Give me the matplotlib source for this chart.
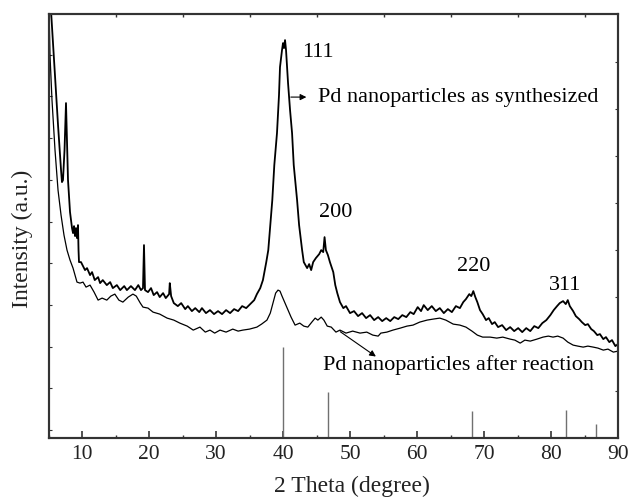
import matplotlib
matplotlib.use("Agg")
import matplotlib.pyplot as plt
import numpy as np

plt.rcParams['font.family'] = ['Liberation Serif', 'DejaVu Serif']

# 2 theta / intensity (a.u.)
synth_x = [5.35, 5.82, 6.42, 6.87, 7.01, 7.16, 7.39, 7.61, 7.76, 7.91, 8.21, 8.51, 8.66, 8.81,
           8.96, 9.10, 9.25, 9.40, 9.48, 9.55, 9.85, 10.15, 10.45, 10.75, 11.2, 11.5, 11.9,
           12.4, 12.7, 13.1, 13.7, 14.2, 14.6, 15.2, 15.7, 16.3, 16.7, 17.3, 17.9, 18.4,
           18.8, 19.1, 19.25, 19.4, 19.85, 20.3, 20.7, 21.2, 21.6, 22.1, 22.5, 23.0, 23.1,
           23.3, 23.7, 24.3, 24.8, 25.4, 25.8, 26.4, 26.9, 27.5, 27.9, 28.5, 29.1, 29.7,
           30.3, 30.9, 31.5, 32.1, 32.7, 33.3, 33.9, 34.5, 35.1, 35.7, 36.1, 36.6, 37.0,
           37.5, 37.8, 38.1, 38.4, 38.7, 39.1, 39.4, 39.55, 39.85, 40.0, 40.15, 40.3, 40.45,
           40.75, 41.05, 41.35, 41.6, 42.1, 42.4, 42.85, 43.1, 43.6, 43.9, 44.2, 44.5, 44.9,
           45.4, 45.7, 46.0, 46.2, 46.4, 46.7, 47.0, 47.5, 47.8, 48.1, 48.5, 49.0, 49.4,
           50.0, 50.6, 51.2, 51.8, 52.4, 53.0, 53.6, 54.2, 54.8, 55.4, 56.0, 56.6, 57.2,
           57.8, 58.4, 59.0, 59.5, 60.1, 60.6, 61.0, 61.6, 62.2, 62.8, 63.4, 64.0, 64.6,
           65.2, 65.8, 66.4, 66.9, 67.3, 67.8, 68.1, 68.4, 68.7, 69.0, 69.4, 69.8, 70.3,
           70.7, 71.2, 71.6, 72.1, 72.7, 73.3, 73.9, 74.5, 75.1, 75.7, 76.3, 76.9, 77.5,
           78.1, 78.7, 79.3, 79.9, 80.4, 80.9, 81.3, 81.8, 82.2, 82.5, 82.8, 83.3, 83.7,
           84.2, 84.6, 85.1, 85.5, 86.0, 86.4, 86.9, 87.3, 87.8, 88.2, 88.7, 89.1, 89.6, 90.0]
synth_y = [430, 378, 313, 268, 256, 258, 288, 335, 298, 258, 226, 210, 205, 212,
           202, 210, 200, 213, 188, 176, 176, 172, 168, 170, 163, 166, 158,
           161, 155, 158, 153, 156, 150, 153, 148, 152, 148, 152, 148, 153,
           148, 150, 193, 148, 146, 150, 143, 146, 141, 145, 140, 144, 155,
           142, 135, 132, 135, 129, 132, 127, 130, 126, 130, 125, 128, 124,
           127, 124, 128, 125, 129, 127, 132, 130, 134, 138, 144, 150, 158,
           176, 188, 213, 238, 273, 305, 343, 371, 388, 395, 390, 398, 388,
           355, 328, 305, 273, 238, 213, 188, 176, 170, 174, 168, 176, 180,
           184, 188, 186, 201, 188, 183, 176, 166, 153, 145, 136, 130, 132,
           125, 127, 122, 125, 120, 123, 118, 121, 117, 120, 117, 121, 119,
           123, 121, 126, 124, 131, 127, 133, 128, 132, 127, 130, 125, 129,
           126, 132, 130, 136, 139, 144, 142, 147, 141, 136, 128, 124, 118,
           120, 114, 116, 111, 113, 108, 111, 107, 110, 106, 110, 107, 112,
           110, 115, 118, 123, 128, 132, 135, 137, 134, 138, 132, 127, 122,
           119, 116, 113, 114, 109, 107, 103, 104, 99, 101, 96, 98, 92, 94]

after_x = [5.07, 5.22, 5.52, 5.97, 6.42, 6.87, 7.31, 7.76, 8.21, 8.66, 9.25, 9.70, 10.15,
           10.6, 11.2, 11.8, 12.4, 13.0, 13.7, 14.3, 14.9, 15.5, 16.1, 16.9, 17.6, 18.1,
           18.7, 19.1, 19.85, 20.6, 21.6, 22.7, 23.7, 24.6, 25.7, 26.6, 27.6, 28.4, 29.1,
           29.8, 30.6, 31.5, 32.5, 33.3, 34.0, 35.0, 36.1, 36.8, 37.6, 38.1, 38.5, 38.9,
           39.25, 39.55, 39.85, 40.3, 40.75, 41.2, 41.8, 42.5, 43.1, 43.7, 44.3, 44.8,
           45.2, 45.7, 46.1, 46.6, 47.2, 47.9, 48.5, 49.4, 50.4, 51.5, 52.5, 53.4, 54.2,
           54.6, 55.5, 56.4, 57.5, 58.5, 59.4, 60.4, 61.5, 62.4, 63.4, 64.3, 65.4, 66.4,
           67.3, 68.2, 69.0, 69.8, 70.9, 71.9, 72.8, 73.9, 74.6, 75.4, 76.1, 76.9, 77.9,
           78.8, 79.6, 80.3, 81.0, 81.8, 82.5, 83.3, 84.0, 84.8, 85.5, 86.3, 87.0, 87.8,
           88.5, 89.3, 90.0]
after_y = [430, 383, 338, 288, 248, 223, 203, 188, 178, 170, 156, 155, 156,
           151, 153, 146, 138, 140, 138, 142, 144, 138, 136, 141, 144, 142,
           135, 131, 130, 126, 124, 120, 118, 115, 112, 108, 111, 106, 108,
           105, 108, 106, 109, 107, 108, 109, 111, 114, 118, 125, 135, 145,
           148, 147, 142, 135, 128, 121, 113, 115, 112, 111, 116, 120,
           118, 121, 118, 112, 111, 106, 108, 105, 107, 105, 106, 103, 102,
           105, 106, 108, 110, 112, 113, 116, 118, 119, 120, 118, 114, 113,
           111, 107, 103, 101, 101, 100, 101, 99, 98, 95, 98, 97, 99,
           101, 102, 101, 102, 100, 96, 93, 92, 91, 92, 91, 90, 88,
           89, 86, 87]

# reference pattern lines
ref_x = [40.05, 46.65, 68.2, 82.2, 86.7]
ref_h = [91, 46, 27, 28, 14]

hkl = ['111', '200', '220', '311']
hkl_x = [45.2, 47.8, 68.4, 82.1]
hkl_y = [386, 226, 172, 153]

fig = plt.figure(figsize=(6.3, 5.03), dpi=100)
ax = fig.add_axes([0.077, 0.129, 0.904, 0.843])

ax.plot(synth_x, synth_y, color='black', lw=1.3)
ax.plot(after_x, after_y, color='black', lw=0.9)
ax.vlines(ref_x, 0, ref_h, color='#707070', lw=1.0)

ax.set_xlim(5, 90)
ax.set_ylim(0, 424)

for lab, x, y in zip(hkl, hkl_x, hkl_y):
    ax.text(x, y, lab, fontsize=16, ha='center', va='center')

ax.text(45.25, 341, 'Pd nanoparticles as synthesized', fontsize=16, va='center', ha='left')
ax.annotate('', xy=(43.9, 341), xytext=(40.75, 341),
            arrowprops=dict(arrowstyle='-|>', color='black', lw=0.8, mutation_scale=9))
ax.text(46.0, 73, 'Pd nanoparticles after reaction', fontsize=16, va='center', ha='left')
ax.annotate('', xy=(54.2, 80), xytext=(48.2, 108),
            arrowprops=dict(arrowstyle='-|>', color='black', lw=0.8, mutation_scale=9))

ax.set_xticks(np.arange(10, 91, 10))
ax.set_xticks(np.arange(5, 91, 5), minor=True)
ax.set_yticks(np.arange(8, 420, 41.7), minor=True)
ax.set_yticks([])
ax.tick_params(axis='x', which='major', direction='in', length=5, width=1.2,
               labelsize=15.5, colors='#333333', labelcolor='#222222', pad=5)
ax.tick_params(axis='x', which='minor', direction='in', length=2.5, width=1.0,
               top=True, colors='#333333')
ax.tick_params(axis='y', which='minor', direction='in', length=2, width=0.8,
               colors='#333333')

ax2 = ax.twinx()
ax2.set_ylim(0, 424)
ax2.set_yticks(np.arange(47, 420, 47))
ax2.tick_params(axis='y', direction='in', length=2.5, width=0.8, labelright=False,
                colors='#333333')

for a in (ax, ax2):
    for s in a.spines.values():
        s.set_linewidth(1.5)
        s.set_color('#333333')

ax.set_xlabel('2 Theta (degree)', fontsize=17, color='#222222')
ax.set_ylabel('Intensity (a.u.)', fontsize=17, color='#222222')
ax.xaxis.set_label_coords(0.533, -0.09)
ax.yaxis.set_label_coords(-0.027, 0.47)

fig.savefig('out.png', dpi=100)
